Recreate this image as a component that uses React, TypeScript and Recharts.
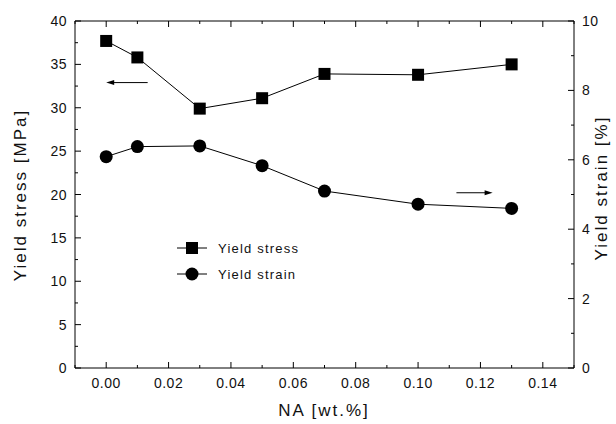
import { ComposedChart, Label, Legend, Line, ReferenceLine, XAxis, YAxis } from "recharts";

const FONT = "'Liberation Sans', Arial, sans-serif";

const naContent = [0, 0.01, 0.03, 0.05, 0.07, 0.1, 0.13];
const yieldStress = [37.7, 35.8, 29.9, 31.1, 33.9, 33.8, 35.0];
const yieldStrain = [6.09, 6.38, 6.4, 5.83, 5.1, 4.72, 4.6];

const xTicks = [-0.01, 0, 0.01, 0.02, 0.03, 0.04, 0.05, 0.06, 0.07, 0.08, 0.09, 0.1, 0.11, 0.12, 0.13, 0.14, 0.15];
const xLabels = [0, 0.02, 0.04, 0.06, 0.08, 0.1, 0.12, 0.14];
const stressTicks = [0, 2.5, 5, 7.5, 10, 12.5, 15, 17.5, 20, 22.5, 25, 27.5, 30, 32.5, 35, 37.5, 40];
const stressLabels = [0, 5, 10, 15, 20, 25, 30, 35, 40];
const strainTicks = [0, 1, 2, 3, 4, 5, 6, 7, 8, 9, 10];
const strainLabels = [0, 2, 4, 6, 8, 10];

const data = naContent.map((na, i) => ({
    na,
    stress: yieldStress[i],
    strain: yieldStrain[i],
}));

const isMajor = (v: number, labels: number[]) => labels.some((l) => Math.abs(l - v) < 1e-9);

const tickText = { fontFamily: FONT, fontSize: 14, letterSpacing: 0.5, fill: "#111" };
const titleText = { fontFamily: FONT, fontSize: 17, letterSpacing: 2, fill: "#111" };

function BottomTick({ x, y, payload }: any) {
    const major = isMajor(payload.value, xLabels);
    return (
        <g>
            <line x1={x} y1={y} x2={x} y2={y - (major ? 6 : 3)} stroke="#000" />
            {major && (
                <text x={x} y={y + 20} textAnchor="middle" {...tickText}>
                    {payload.value.toFixed(2)}
                </text>
            )}
        </g>
    );
}

function TopTick({ x, y, payload }: any) {
    const major = isMajor(payload.value, xLabels);
    return <line x1={x} y1={y} x2={x} y2={y + (major ? 6 : 3)} stroke="#000" />;
}

function LeftTick({ x, y, payload }: any) {
    const major = isMajor(payload.value, stressLabels);
    return (
        <g>
            <line x1={x} y1={y} x2={x + (major ? 6 : 3)} y2={y} stroke="#000" />
            {major && (
                <text x={x - 8} y={y + 5} textAnchor="end" {...tickText}>
                    {payload.value}
                </text>
            )}
        </g>
    );
}

function RightTick({ x, y, payload }: any) {
    const major = isMajor(payload.value, strainLabels);
    return (
        <g>
            <line x1={x} y1={y} x2={x - (major ? 6 : 3)} y2={y} stroke="#000" />
            {major && (
                <text x={x + 8} y={y + 5} textAnchor="start" {...tickText}>
                    {payload.value}
                </text>
            )}
        </g>
    );
}

function SquareDot({ cx, cy }: any) {
    if (cx == null || cy == null) return null;
    return <rect x={cx - 6} y={cy - 6} width={12} height={12} fill="#000" />;
}

function CircleDot({ cx, cy }: any) {
    if (cx == null || cy == null) return null;
    return <circle cx={cx} cy={cy} r={6.5} fill="#000" />;
}

function Arrow({ x1, y1, x2, y2 }: any) {
    const dir = x2 > x1 ? 1 : -1;
    return (
        <g>
            <line x1={x1} y1={y1} x2={x2 - dir * 6} y2={y2} stroke="#000" strokeWidth={1} />
            <polygon points={`${x2},${y2} ${x2 - dir * 8},${y2 - 2.5} ${x2 - dir * 8},${y2 + 2.5}`} fill="#000" />
        </g>
    );
}

function LegendBox() {
    const items = [
        { label: "Yield stress", square: true },
        { label: "Yield strain", square: false },
    ];
    return (
        <svg width={170} height={50}>
            {items.map((it, i) => {
                const cy = 10 + i * 26;
                return (
                    <g key={it.label}>
                        <line x1={7} y1={cy} x2={37} y2={cy} stroke="#000" />
                        {it.square ? (
                            <rect x={16} y={cy - 6} width={12} height={12} fill="#000" />
                        ) : (
                            <circle cx={22} cy={cy} r={6.5} fill="#000" />
                        )}
                        <text x={48} y={cy + 5} fontFamily={FONT} fontSize={13} letterSpacing={1.2} fill="#111">
                            {it.label}
                        </text>
                    </g>
                );
            })}
        </svg>
    );
}

export default function App() {
    return (
        <div style={{ position: "absolute", left: 0, top: 0, background: "#fff" }}>
            <ComposedChart
                width={616}
                height={424}
                data={data}
                margin={{ top: 20, right: 41, bottom: 55, left: 74 }}
            >
                <XAxis
                    dataKey="na"
                    type="number"
                    domain={[-0.01, 0.15]}
                    ticks={xTicks}
                    interval={0}
                    height={1}
                    tickSize={0}
                    tickMargin={0}
                    tickLine={false}
                    axisLine={{ stroke: "#000" }}
                    tick={<BottomTick />}
                >
                    <Label
                        content={() => (
                            <text x={324} y={416} textAnchor="middle" {...titleText}>
                                NA [wt.%]
                            </text>
                        )}
                    />
                </XAxis>
                <XAxis
                    xAxisId="top"
                    orientation="top"
                    dataKey="na"
                    type="number"
                    domain={[-0.01, 0.15]}
                    ticks={xTicks}
                    interval={0}
                    height={1}
                    tickSize={0}
                    tickMargin={0}
                    tickLine={false}
                    axisLine={{ stroke: "#000" }}
                    tick={<TopTick />}
                />
                <YAxis
                    yAxisId="left"
                    type="number"
                    domain={[0, 40]}
                    ticks={stressTicks}
                    interval={0}
                    width={1}
                    tickSize={0}
                    tickMargin={0}
                    tickLine={false}
                    axisLine={{ stroke: "#000" }}
                    tick={<LeftTick />}
                >
                    <Label
                        content={() => (
                            <text
                                x={26}
                                y={195}
                                transform="rotate(-90 26 195)"
                                textAnchor="middle"
                                {...titleText}
                            >
                                Yield stress [MPa]
                            </text>
                        )}
                    />
                </YAxis>
                <YAxis
                    yAxisId="right"
                    orientation="right"
                    type="number"
                    domain={[0, 10]}
                    ticks={strainTicks}
                    interval={0}
                    width={1}
                    tickSize={0}
                    tickMargin={0}
                    tickLine={false}
                    axisLine={{ stroke: "#000" }}
                    tick={<RightTick />}
                >
                    <Label
                        content={() => (
                            <text
                                x={607}
                                y={188}
                                transform="rotate(-90 607 188)"
                                textAnchor="middle"
                                {...titleText}
                            >
                                Yield strain [%]
                            </text>
                        )}
                    />
                </YAxis>
                <Legend
                    layout="vertical"
                    align="center"
                    verticalAlign="middle"
                    wrapperStyle={{ left: 170, top: 238, width: 170, height: 50 }}
                    content={() => <LegendBox />}
                />
                <ReferenceLine
                    yAxisId="left"
                    segment={[
                        { x: 0.0133, y: 32.9 },
                        { x: 0, y: 32.9 },
                    ]}
                    shape={<Arrow />}
                />
                <ReferenceLine
                    yAxisId="left"
                    segment={[
                        { x: 0.1123, y: 20.2 },
                        { x: 0.1239, y: 20.2 },
                    ]}
                    shape={<Arrow />}
                />
                <Line
                    yAxisId="left"
                    dataKey="stress"
                    name="Yield stress"
                    stroke="#000"
                    strokeWidth={1}
                    dot={<SquareDot />}
                    activeDot={false}
                    isAnimationActive={false}
                />
                <Line
                    yAxisId="right"
                    dataKey="strain"
                    name="Yield strain"
                    stroke="#000"
                    strokeWidth={1}
                    dot={<CircleDot />}
                    activeDot={false}
                    isAnimationActive={false}
                />
            </ComposedChart>
        </div>
    );
}
